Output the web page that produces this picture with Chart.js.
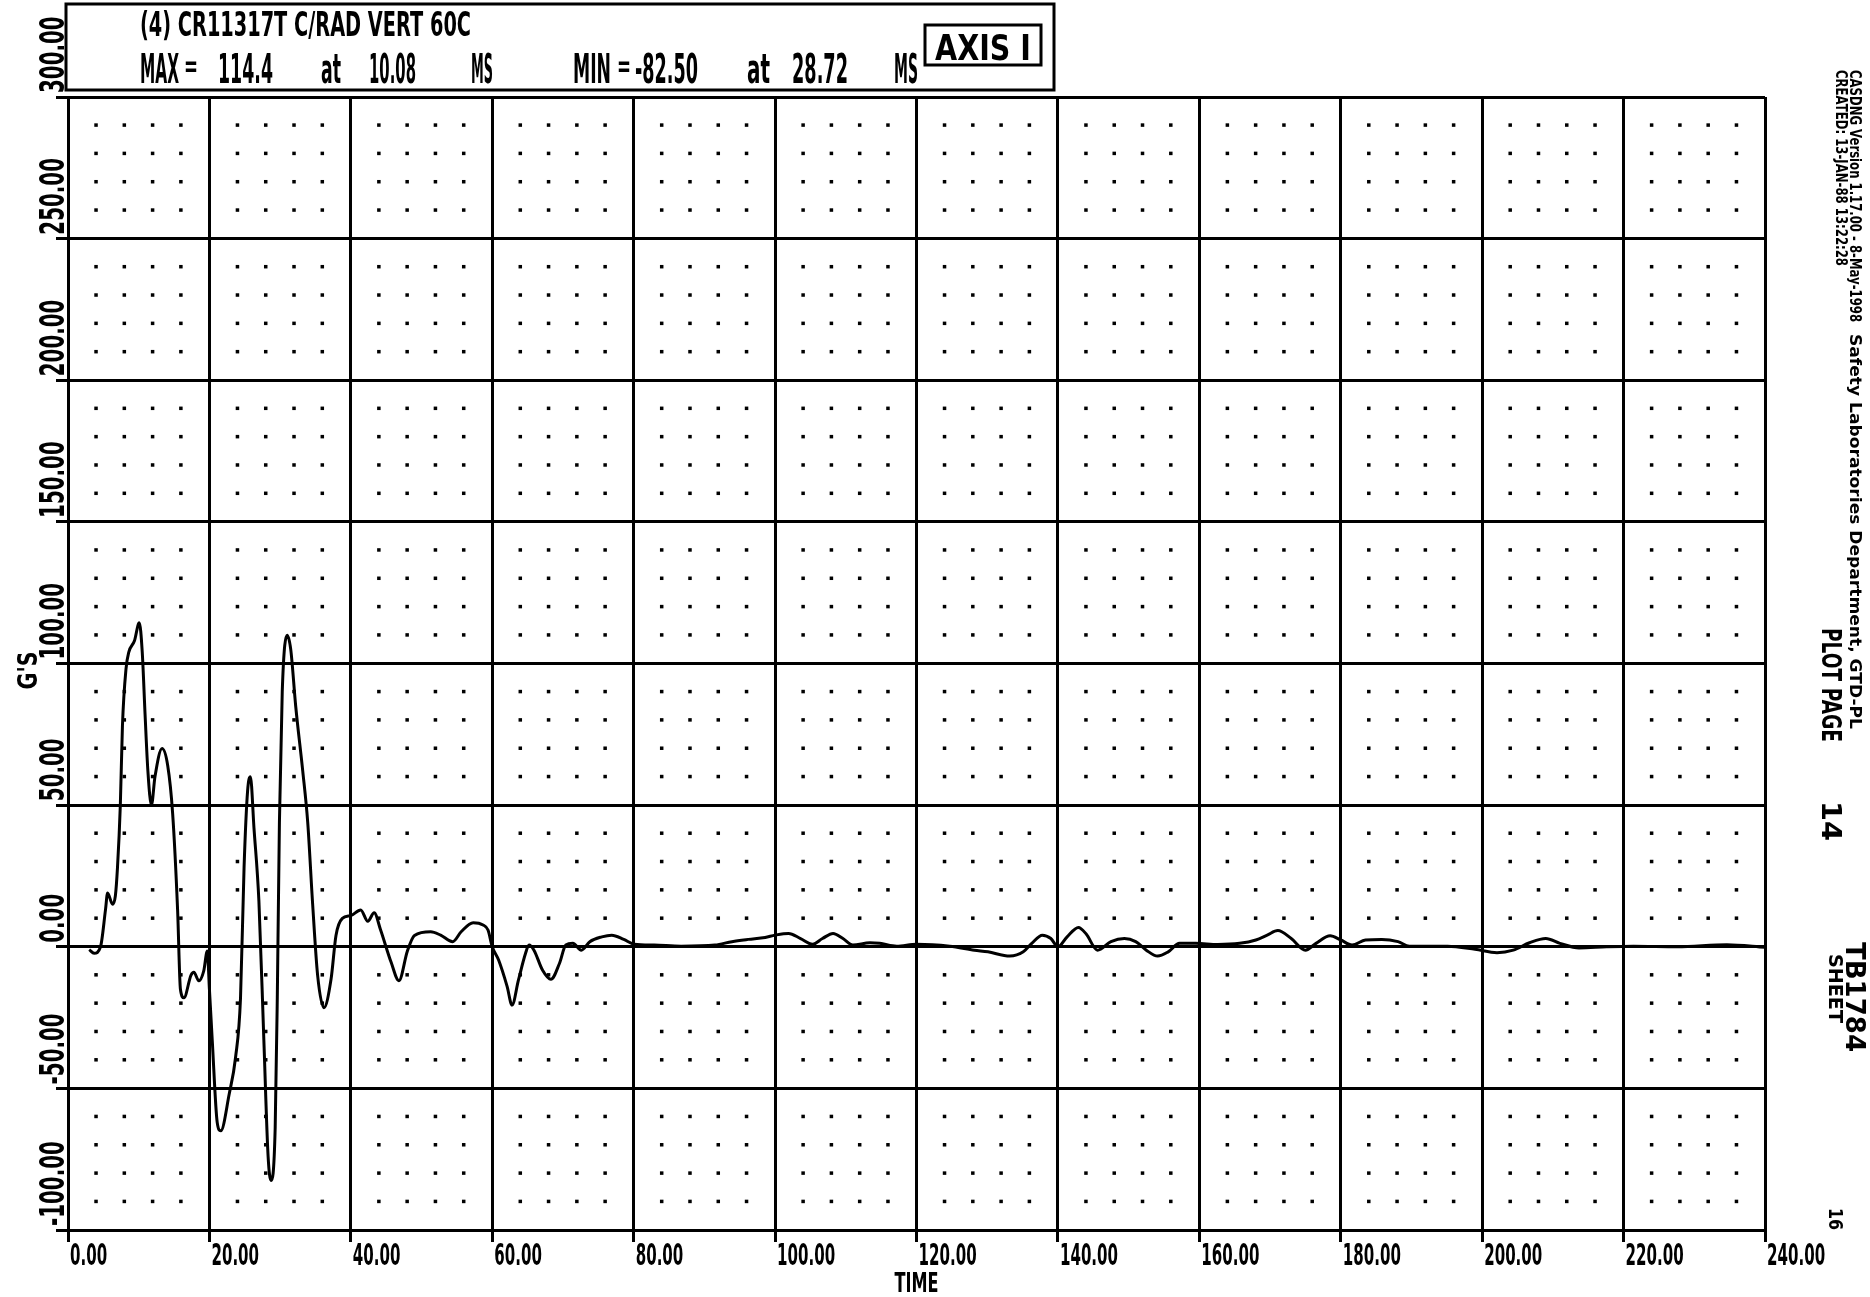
<!DOCTYPE html>
<html>
<head>
<meta charset="utf-8">
<title>CR11317T C/RAD VERT 60C</title>
<script src="https://cdn.jsdelivr.net/npm/chart.js@4.4.1/dist/chart.umd.min.js"></script>
<style>
  html, body { margin: 0; padding: 0; background: #fff; }
  #wrap { width: 1870px; height: 1297px; }
</style>
</head>
<body>
<div id="wrap"><canvas id="plot" width="1870" height="1297"></canvas></div>
<script>
// channel trace: time in ms, acceleration in G's
const timeMs = [
  3.0, 3.7, 4.6, 5.3, 5.6, 6.3, 6.7, 7.0, 7.4, 7.7, 8.2, 8.6, 9.4, 10.08, 10.5, 10.9,
  11.3, 11.8, 12.3, 13.3, 14.1, 14.8, 15.5, 15.9, 16.4, 17.4, 17.8, 18.5, 19.2, 19.7,
  20.0, 20.4, 21.1, 21.6, 22.8, 23.7, 24.4, 24.9, 25.4, 25.8, 26.3, 27.0, 27.7, 28.3,
  28.72, 29.3, 29.6, 29.9, 30.3, 31.0, 31.5, 32.2, 33.2, 33.9, 34.6, 35.3, 36.2, 37.2,
  37.9, 38.8, 40.0, 41.4, 42.4, 43.3, 44.2, 45.7, 46.8, 48.0, 49.0, 51.3, 52.7, 54.4,
  55.6, 57.3, 58.7, 59.4, 60.0, 60.9, 62.1, 62.8, 63.7, 64.7, 65.2, 65.9, 67.1, 68.3,
  69.5, 70.4, 71.4, 72.6, 73.8, 75.5, 76.9, 78.6, 80.1, 82.9, 86.7, 91.5, 93.9, 96.2,
  98.6, 100.0, 101.9, 103.6, 105.3, 106.7, 108.2, 109.6, 111.0, 113.4, 114.8, 117.2,
  120.0, 124.7, 128.2, 130.1, 133.2, 135.1, 136.3, 137.8, 139.0, 140.0, 141.3, 142.9,
  144.0, 145.6, 147.5, 149.4, 151.0, 152.5, 154.1, 155.6, 157.2, 159.5, 162.6, 165.7,
  168.0, 169.6, 171.1, 173.0, 175.0, 176.5, 178.5, 180.0, 181.6, 183.5, 185.8, 188.1,
  189.7, 195.1, 199.0, 202.1, 204.4, 206.7, 209.0, 211.0, 213.7, 217.6, 221.4, 227.6,
  234.6, 240.0
];
const accelG = [
  -1, -2.3, 0, 13, 19, 15, 18, 28, 50, 78, 98, 104, 108, 114.4, 104, 82,
  62, 50, 60, 70, 64, 47, 13, -15, -18, -10, -9, -12, -8.5, -1.5,
  -15, -33, -62, -65, -52, -39, -18, 28, 55, 60, 42, 16, -33, -74,
  -82.5, -64, -18, 44, 90, 110, 105, 85, 62, 44, 15, -10, -21.5, -11.5,
  4, 10, 11, 13, 9, 12, 6, -5.5, -12, -1.5, 4, 5.3, 4.1, 1.8,
  5.3, 8.5, 7.7, 5.9, 0, -4.7, -14, -20.6, -11.8, -2.4, 0.6, -1.2, -8.2, -11.5,
  -5.9, 0.6, 1.2, -1.2, 1.8, 3.5, 4.1, 2.6, 0.9, 0.6, 0.2, 0.6, 1.8, 2.6,
  3.3, 4.1, 4.7, 2.9, 0.9, 2.9, 4.7, 2.9, 0.6, 1.4, 1.2, 0.2,
  0.9, 0.2, -1.2, -1.8, -3.3, -1.8, 1.2, 4.1, 2.9, 0, 3.5, 6.8,
  4.5, -1.2, 1.8, 2.9, 1.8, -1.2, -3.3, -1.8, 1.2, 1.2, 0.8, 1.2,
  2.4, 4.1, 5.7, 2.9, -1.2, 1.2, 3.9, 2.4, 0.6, 2.4, 2.6, 1.8,
  0.2, 0.2, -0.9, -2.1, -1.2, 1.4, 2.9, 1.2, -0.4, 0, 0.2, 0,
  0.7, -0.2
];

// axis ranges and steps
const timeRange = [0, 240];
const timeStep = 20;
const gRange = [-100, 300];
const gStep = 50;
const minorTimeStep = 4;
const minorGStep = 10;

// header and margin texts
const channelTitle = '(4) CR11317T C/RAD VERT 60C';
const peakLabels = ['MAX', '=', '114.4', 'at', '10.08', 'MS', 'MIN', '=', '-82.50', 'at', '28.72', 'MS'];
const axisTag = 'AXIS I';
const sideNotes = [
  'CASDNG Version 1.17.00 - 8-May-1998',
  'Safety Laboratories Department, GTD-PL',
  'CREATED: 13-JAN-88 13:22:28',
  'PLOT PAGE', '14', 'TB1784', 'SHEET', '16'
];

const FONT = '"DejaVu Sans", sans-serif';

// plotter style text: squeezed sideways, sized by glyph height
function plotText(ctx, s, x, y, o) {
  const size = o.cap / 0.73;
  ctx.save();
  ctx.font = 'bold ' + size + 'px ' + FONT;
  ctx.translate(x, y);
  if (o.rot) ctx.rotate(o.rot);
  let sx = o.sx || 0.6;
  if (o.width) sx = o.width / ctx.measureText(s).width;
  ctx.scale(sx, 1);
  ctx.textAlign = o.align || 'left';
  ctx.textBaseline = 'alphabetic';
  ctx.fillStyle = '#000';
  ctx.fillText(s, 0, 0);
  ctx.restore();
}

// dotted minor grid, at the minor intersections
const minorDots = {
  id: 'minorDots',
  beforeDatasetsDraw(chart) {
    const { ctx, scales: { x, y } } = chart;
    ctx.save();
    ctx.fillStyle = '#000';
    for (let t = timeRange[0]; t <= timeRange[1]; t += minorTimeStep) {
      if (t % timeStep === 0) continue;
      for (let g = gRange[0]; g <= gRange[1]; g += minorGStep) {
        if (g % gStep === 0) continue;
        ctx.fillRect(x.getPixelForValue(t) - 2, y.getPixelForValue(g) - 2, 3.5, 3.5);
      }
    }
    ctx.restore();
  }
};

const plotterText = {
  id: 'plotterText',
  afterDraw(chart) {
    const { ctx, chartArea: a, scales: { x, y } } = chart;

    // tick labels
    x.ticks.forEach(tk => {
      plotText(ctx, tk.value.toFixed(2), x.getPixelForValue(tk.value) + 2, a.bottom + 35, { cap: 22, sx: 0.5 });
    });
    y.ticks.forEach(tk => {
      plotText(ctx, tk.value.toFixed(2), a.left - 4, y.getPixelForValue(tk.value) - 4,
        { cap: 25, sx: 0.58, rot: -Math.PI / 2 });
    });

    // axis titles
    plotText(ctx, 'TIME', (a.left + a.right) / 2, a.bottom + 62, { cap: 19, align: 'center', width: 44 });
    plotText(ctx, "G'S", 37, (a.top + a.bottom) / 2 + 7, { cap: 20, rot: -Math.PI / 2, align: 'center', width: 38 });

    // header box
    ctx.save();
    ctx.strokeStyle = '#000';
    ctx.lineWidth = 3;
    ctx.strokeRect(a.left - 2, 4, 988, 86);
    ctx.strokeRect(925, 25, 116, 40);
    ctx.restore();
    plotText(ctx, channelTitle, 140, 36, { cap: 25, width: 331 });
    const px = [140, 184, 218, 321, 369, 471, 573, 617, 635, 747, 792, 894];
    const pw = [39, 14, 55, 20, 47, 22, 38, 14, 63, 23, 56, 24];
    peakLabels.forEach((s, i) => {
      if (s === '=') {
        plotText(ctx, s, px[i], 76, { cap: 22, width: pw[i] });
      } else {
        plotText(ctx, s, px[i], 83, { cap: 30, width: pw[i] });
      }
    });
    plotText(ctx, axisTag, 935, 60, { cap: 26, width: 96 });

    // right margin, rotated a quarter turn clockwise
    const r = Math.PI / 2;
    plotText(ctx, sideNotes[0], 1850, 70, { cap: 12, rot: r, width: 252 });
    plotText(ctx, sideNotes[1], 1850, 334, { cap: 12, rot: r, width: 395 });
    plotText(ctx, sideNotes[2], 1836, 70, { cap: 12, rot: r, width: 196 });
    plotText(ctx, sideNotes[3], 1822, 628, { cap: 20, rot: r, width: 114 });
    plotText(ctx, sideNotes[4], 1822, 801, { cap: 20, rot: r, width: 40 });
    plotText(ctx, sideNotes[5], 1846, 942, { cap: 19, rot: r, width: 110 });
    plotText(ctx, sideNotes[6], 1829, 954, { cap: 14, rot: r, width: 69 });
    plotText(ctx, sideNotes[7], 1829, 1208, { cap: 14, rot: r, width: 22 });
  }
};

new Chart(document.getElementById('plot'), {
  type: 'line',
  data: {
    datasets: [{
      label: channelTitle,
      data: timeMs.map((t, i) => ({ x: t, y: accelG[i] })),
      borderColor: '#000',
      borderWidth: 3,
      pointRadius: 0,
      cubicInterpolationMode: 'monotone',
      fill: false
    }]
  },
  options: {
    responsive: false,
    animation: false,
    events: [],
    layout: { padding: { top: 97, right: 105, left: 0, bottom: 0 } },
    plugins: { legend: { display: false }, tooltip: { enabled: false } },
    scales: {
      x: {
        type: 'linear',
        min: timeRange[0],
        max: timeRange[1],
        ticks: { stepSize: timeStep, display: false },
        grid: { color: '#000', lineWidth: 3, tickLength: 12 },
        border: { color: '#000', width: 3 },
        afterFit(scale) { scale.height = 67; }
      },
      y: {
        min: gRange[0],
        max: gRange[1],
        ticks: { stepSize: gStep, display: false },
        grid: { color: '#000', lineWidth: 3, tickLength: 12 },
        border: { color: '#000', width: 3 },
        afterFit(scale) { scale.width = 68; }
      }
    }
  },
  plugins: [minorDots, plotterText]
});
</script>
</body>
</html>
